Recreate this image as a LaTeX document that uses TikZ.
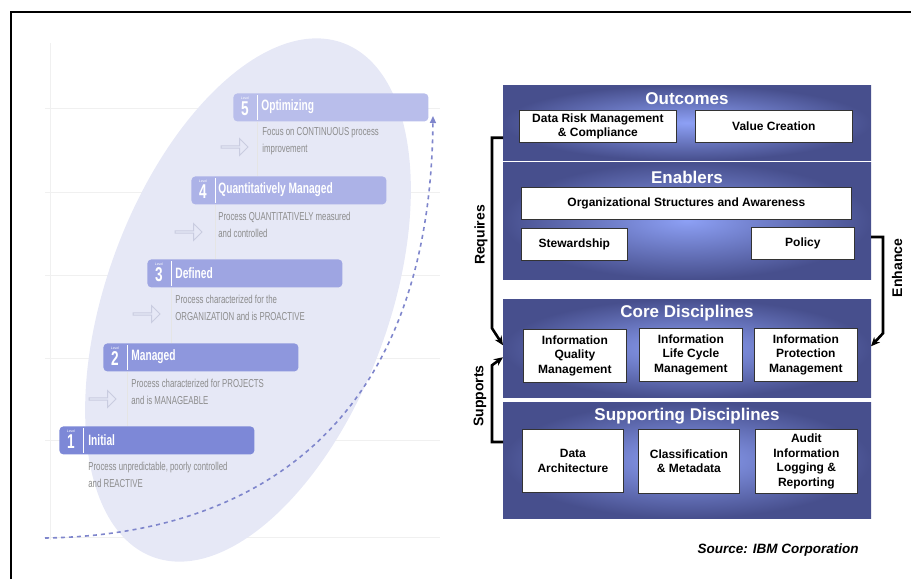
\documentclass[tikz,border=0pt]{standalone}
\usepackage{fontspec}
\setmainfont{Liberation Sans}
\newfontfamily\narrowfont[FakeStretch=0.68]{Liberation Sans}
\usepackage{tikz}
\usetikzlibrary{shapes.geometric,shapes.arrows,arrows.meta,calc}
\definecolor{panelIn}{HTML}{8DA0F5}
\definecolor{panelOut}{HTML}{474F8D}
\definecolor{oval}{HTML}{E6E8F6}
\definecolor{lvlA}{HTML}{7D88D7}
\definecolor{lvlB}{HTML}{8E97DD}
\definecolor{lvlC}{HTML}{9EA5E2}
\definecolor{lvlD}{HTML}{ACB2E7}
\definecolor{lvlE}{HTML}{B9BEEB}
\definecolor{turnGrey}{HTML}{C9CCE0}
\definecolor{progress}{HTML}{7F86CC}

\begin{document}
\begin{tikzpicture}[x=1pt,y=-1pt,thick]
        %
        % `panel' is the shaded block, `item' the white boxes in it.
        % `level' is used for the maturity bars on the left.
        \tikzstyle{panel} = [shading=radial,inner color=panelIn,outer color=panelOut,minimum width=368,inner sep=0pt,outer sep=0pt,anchor=north west]
        \tikzstyle{paneltitle} = [text=white,inner sep=0pt,font=\fontsize{17}{20}\selectfont\bfseries]
        \tikzstyle{item} = [draw=black!80,fill=white,line width=0.8pt,anchor=north west,align=center,inner sep=1pt,font=\fontsize{12}{14.5}\selectfont\bfseries]
        \tikzstyle{link} = [line width=2.6pt,-{Stealth[length=9pt,width=8pt]}]
        \tikzstyle{linklabel} = [rotate=90,inner sep=0pt,font=\fontsize{14}{16}\selectfont\bfseries]
        \tikzstyle{level} = [rounded corners=4pt,minimum width=195,minimum height=28,anchor=north west,inner sep=0pt]
        \tikzstyle{leveltitle} = [anchor=west,text=white,inner sep=0pt,font=\narrowfont\fontsize{15}{17}\selectfont\bfseries]
        \tikzstyle{levelnum} = [text=white,inner sep=0pt,font=\narrowfont\fontsize{20}{20}\selectfont\bfseries]
        \tikzstyle{leveltiny} = [text=white,inner sep=0pt,font=\fontsize{3.5}{4}\selectfont]
        \tikzstyle{leveltext} = [anchor=west,align=left,text=black!45,inner sep=0pt,font=\narrowfont\fontsize{11.5}{17}\selectfont]
        \tikzstyle{divider} = [white,line width=1pt]
        \tikzstyle{guide} = [black!6,line width=0.8pt]
        \tikzstyle{turn} = [single arrow,draw=turnGrey,line width=0.9pt,minimum height=27,minimum width=17,single arrow head extend=3pt,inner sep=0pt]
        %
        \useasboundingbox (0,0) rectangle (911,579);
        % Frame
        \draw[line width=1.3pt] (11,579) -- (11,12) -- (911,12);
        %
        % Background grid
        \draw[guide] (50,43) -- (50,540);
        \draw[guide] (45,108) -- (440,108);
        \draw[guide] (45,192) -- (440,192);
        \draw[guide] (45,275) -- (440,275);
        \draw[guide] (45,358) -- (440,358);
        \draw[guide] (45,440) -- (440,440);
        \draw[guide] (45,537) -- (440,537);
        %
        % Oval
        \node[ellipse,fill=oval,minimum width=282,minimum height=548,rotate=-20.3] (oval) at (248,300) {};
        %
        % Level 5
        \node[level,fill=lvlE] (lvl5) at (233,93) {};
        \node[leveltiny] (lt5) at (245,98) {Level};
        \node[levelnum] (n5) at (245,109) {5};
        \draw[divider] ($(lvl5.north west)+(24,2)$) -- ($(lvl5.south west)+(24,-2)$);
        \node[leveltitle] (t5) at (261,107) {Optimizing};
        \node[leveltext] (d5) at (262,141.5) {Focus on CONTINUOUS process\\improvement};
        \node[turn] (a5) at (234,147) {};
        \draw[guide,black!10] ($(lvl5.south west)+(24,0)$) -- (257,176);
        %
        % Level 4
        \node[level,fill=lvlD] (lvl4) at (191,176) {};
        \node[leveltiny] (lt4) at (203,181) {Level};
        \node[levelnum] (n4) at (203,192) {4};
        \draw[divider] ($(lvl4.north west)+(24,2)$) -- ($(lvl4.south west)+(24,-2)$);
        \node[leveltitle] (t4) at (218,190) {Quantitatively Managed};
        \node[leveltext] (d4) at (218,224.5) {Process QUANTITATIVELY measured\\and controlled};
        \node[turn] (a4) at (188,232) {};
        \draw[guide,black!10] ($(lvl4.south west)+(24,0)$) -- (215,259);
        %
        % Level 3
        \node[level,fill=lvlC] (lvl3) at (147,259) {};
        \node[leveltiny] (lt3) at (159,264) {Level};
        \node[levelnum] (n3) at (159,275) {3};
        \draw[divider] ($(lvl3.north west)+(24,2)$) -- ($(lvl3.south west)+(24,-2)$);
        \node[leveltitle] (t3) at (175,273) {Defined};
        \node[leveltext] (d3) at (175,307.5) {Process characterized for the\\ORGANIZATION and is PROACTIVE};
        \node[turn] (a3) at (146,314) {};
        \draw[guide,black!10] ($(lvl3.south west)+(24,0)$) -- (171,343);
        %
        % Level 2
        \node[level,fill=lvlB] (lvl2) at (103,343) {};
        \node[leveltiny] (lt2) at (115,348) {Level};
        \node[levelnum] (n2) at (115,359) {2};
        \draw[divider] ($(lvl2.north west)+(24,2)$) -- ($(lvl2.south west)+(24,-2)$);
        \node[leveltitle] (t2) at (131,357) {Managed};
        \node[leveltext] (d2) at (131,391.5) {Process characterized for PROJECTS\\and is MANAGEABLE};
        \node[turn] (a2) at (102,399) {};
        \draw[guide,black!10] ($(lvl2.south west)+(24,0)$) -- (127,426);
        %
        % Level 1
        \node[level,fill=lvlA] (lvl1) at (59,426) {};
        \node[leveltiny] (lt1) at (71,431) {Level};
        \node[levelnum] (n1) at (71,442) {1};
        \draw[divider] ($(lvl1.north west)+(24,2)$) -- ($(lvl1.south west)+(24,-2)$);
        \node[leveltitle] (t1) at (88,440) {Initial};
        \node[leveltext] (d1) at (88,474.5) {Process unpredictable, poorly controlled\\and REACTIVE};
        %
        % Progress curve
        \coordinate (curveStart) at (45,538);
        \coordinate (curveEnd) at (433,116);
        \draw[progress,line width=1.6pt,dash pattern=on 4pt off 4pt,-{Triangle[length=7pt,width=6pt]}] (curveStart) .. controls (250,535) and (430,430) .. (curveEnd);
        %
        % Outcomes
        \node[panel,minimum height=75.5] (outcomes) at (503,85) {};
        \node[paneltitle] (outTitle) at (687,99) {Outcomes};
        \node[item,minimum width=157,minimum height=32] (drm) at (519,110) {Data Risk Management\\\& Compliance};
        \node[item,minimum width=157,minimum height=32] (value) at (695,110) {Value Creation};
        %
        % Enablers
        \node[panel,minimum height=117] (enablers) at (503,162) {};
        \node[paneltitle] (enTitle) at (687,177) {Enablers};
        \node[item,minimum width=330,minimum height=32] (org) at (521,187) {Organizational Structures and Awareness};
        \node[item,minimum width=106,minimum height=32] (steward) at (521,228) {Stewardship};
        \node[item,minimum width=103,minimum height=32] (policy) at (751,227) {Policy};
        %
        % Core Disciplines
        \node[panel,minimum height=98.5] (core) at (503,299) {};
        \node[paneltitle] (coreTitle) at (687,313) {Core Disciplines};
        \node[item,minimum width=103,minimum height=53] (quality) at (523,329) {Information\\Quality\\Management};
        \node[item,minimum width=103,minimum height=53] (cycle) at (639,328) {Information\\Life Cycle\\Management};
        \node[item,minimum width=103,minimum height=53] (protect) at (754,328) {Information\\Protection\\Management};
        %
        % Supporting Disciplines
        \node[panel,minimum height=116] (supporting) at (503,402) {};
        \node[paneltitle] (supTitle) at (687,416) {Supporting Disciplines};
        \node[item,minimum width=101,minimum height=63] (arch) at (522,429) {Data\\Architecture};
        \node[item,minimum width=101,minimum height=64] (meta) at (638,429) {Classification\\\& Metadata};
        \node[item,minimum width=102,minimum height=64] (audit) at (755,429) {Audit\\Information\\Logging \&\\Reporting};
        %
        % Links
        \draw[link] ($(outcomes.west)+(0,15)$) -| ($(core.west)+(-11,-20)$) -- ($(core.west)+(0,-3)$);
        \draw[link] ($(supporting.west)+(0,-18)$) -| ($(core.west)+(-11,17)$) -- ($(core.west)+(0,9)$);
        \draw[link] ($(enablers.east)+(0,16.5)$) -| ($(core.east)+(12,-15)$) -- ($(core.east)+(0,-2)$);
        \node[linklabel] (reqLabel) at (481,235) {Requires};
        \node[linklabel] (supLabel) at (480,396) {Supports};
        \node[linklabel] (enhLabel) at (897,268) {Enhance};
        %
        % Source
        \node[anchor=east,inner sep=0pt,font=\fontsize{13.5}{16}\selectfont\bfseries\itshape] (source) at (859,550) {Source: IBM Corporation};
        %
\end{tikzpicture}
\end{document}
